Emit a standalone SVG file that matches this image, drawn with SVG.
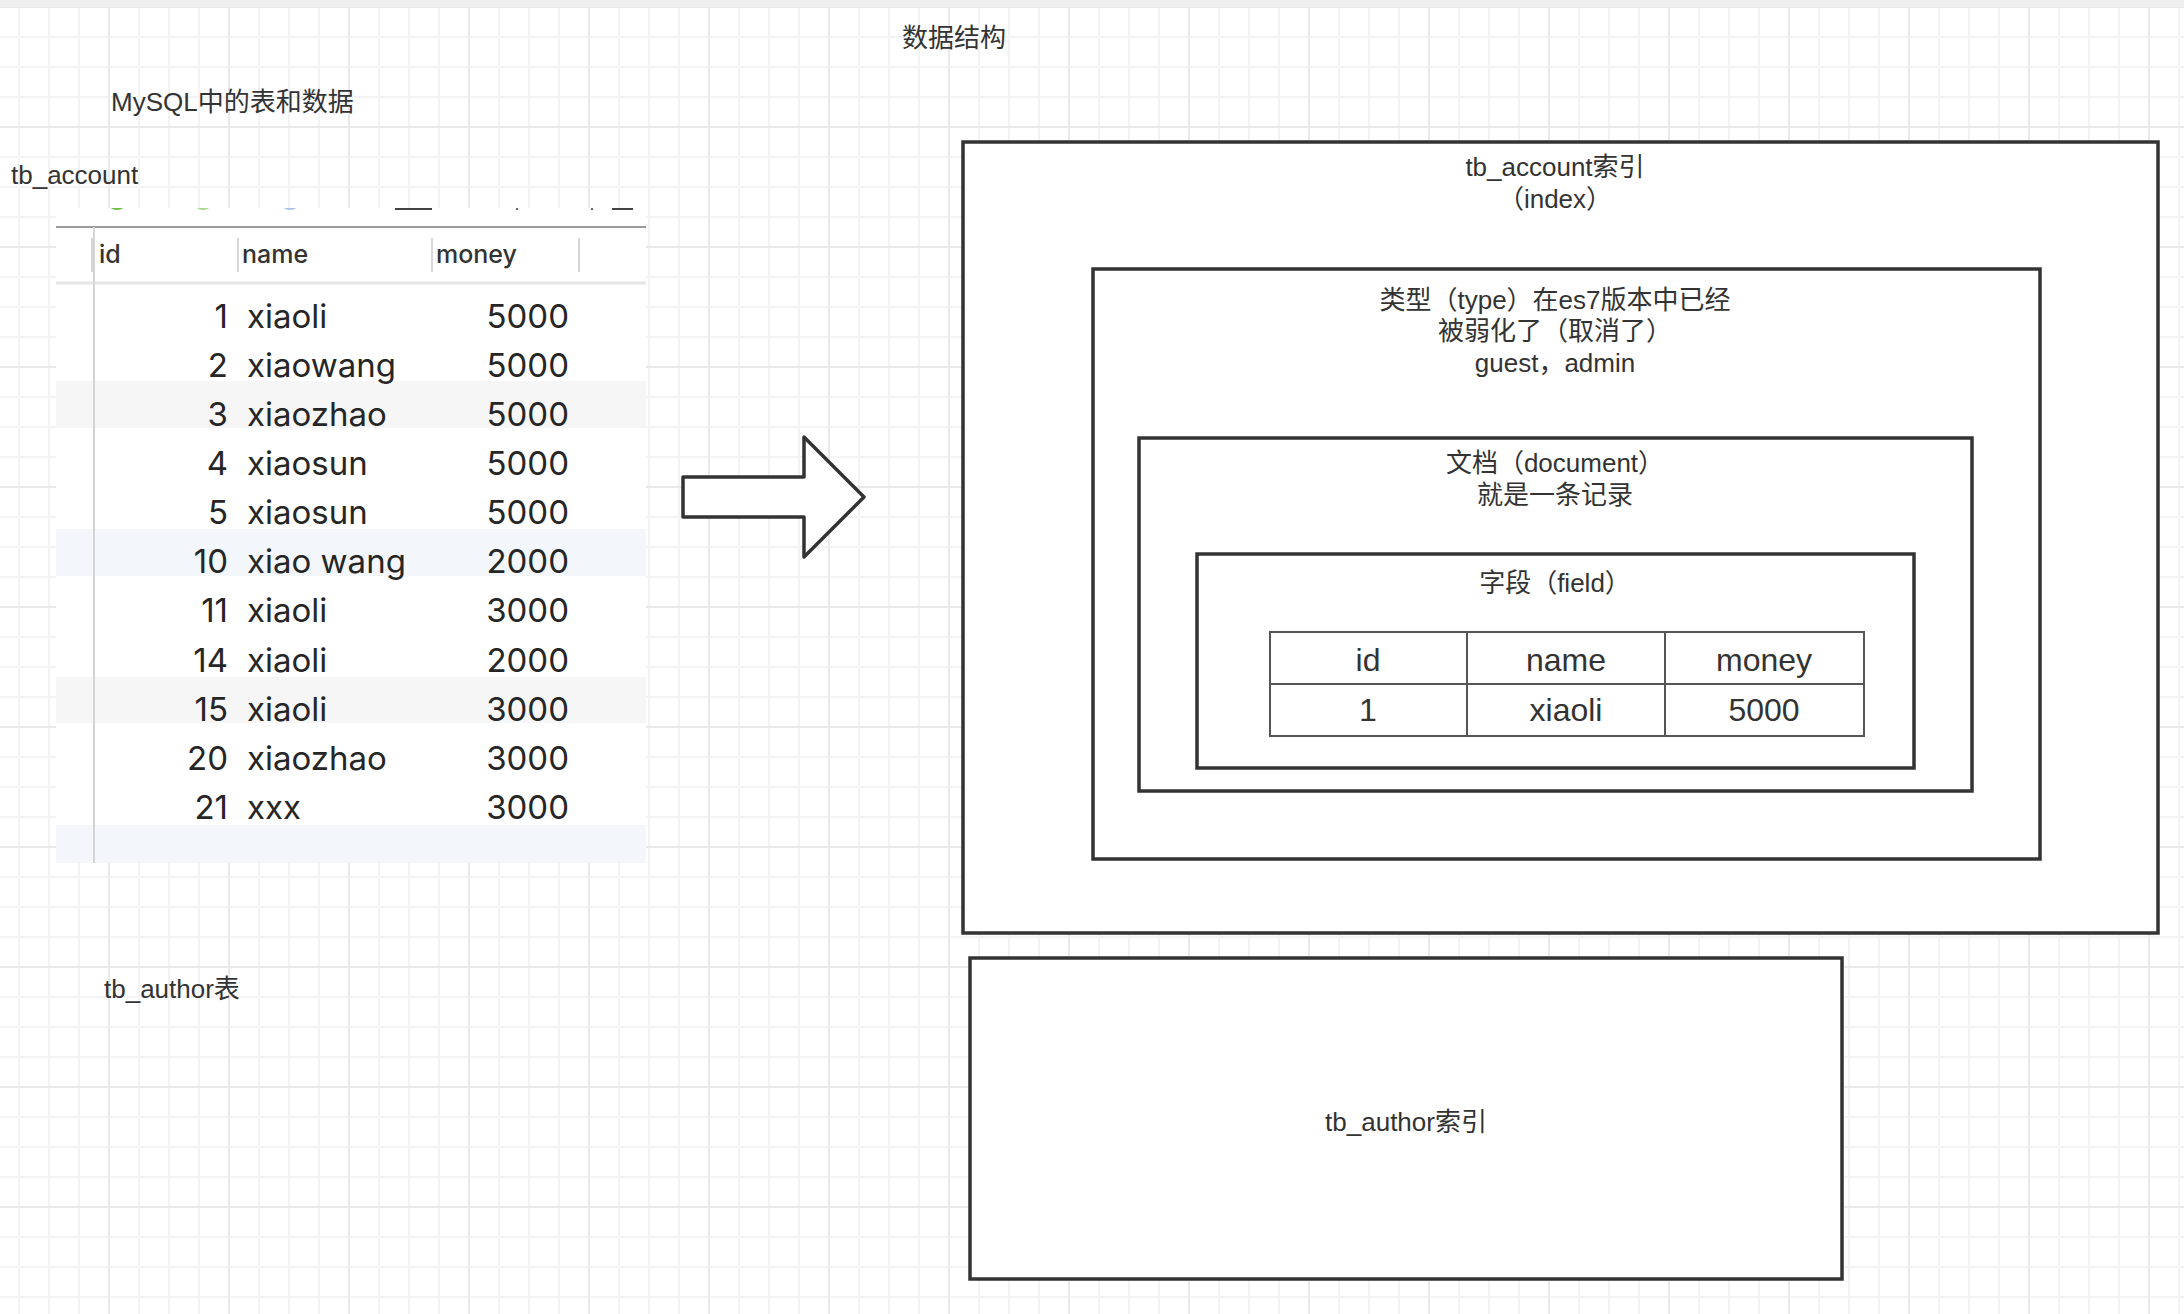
<svg xmlns="http://www.w3.org/2000/svg" width="2184" height="1314" viewBox="0 0 2184 1314">
<defs>
<pattern id="grid" x="9" y="-3" width="120" height="120" patternUnits="userSpaceOnUse">
<rect width="120" height="120" fill="#ffffff"/>
<g stroke="#f3f3f3" stroke-width="2">
<line x1="10" y1="0" x2="10" y2="120"/>
<line x1="40" y1="0" x2="40" y2="120"/>
<line x1="70" y1="0" x2="70" y2="120"/>
<line x1="0" y1="40" x2="120" y2="40"/>
<line x1="0" y1="70" x2="120" y2="70"/>
<line x1="0" y1="100" x2="120" y2="100"/>
</g>
<g stroke="#e9e9e9" stroke-width="2">
<line x1="100" y1="0" x2="100" y2="120"/>
<line x1="0" y1="10" x2="120" y2="10"/>
</g>
</pattern>
<clipPath id="shotClip"><rect x="56" y="208" width="590" height="655"/></clipPath>
<style>
.lbl{font-family:"Liberation Sans","Noto Sans CJK SC",sans-serif;font-size:26px;fill:#333333}
.c{text-anchor:middle}
.box{fill:#ffffff;stroke:#333333;stroke-width:3.5}
.cell{fill:#ffffff;stroke:#555555;stroke-width:2}
.tv{font-family:"Liberation Sans","Noto Sans CJK SC",sans-serif;font-size:32px;fill:#333333;text-anchor:middle}
.st{font-family:Inter,"Liberation Sans",sans-serif;font-size:33px;fill:#262626}
.sh{font-family:Inter,"Liberation Sans",sans-serif;font-size:25px;font-weight:500;fill:#333333}
.r{text-anchor:end}
.sep{stroke:#d6d6d6;stroke-width:2}
</style>
</defs>
<rect x="0" y="0" width="2184" height="1314" fill="url(#grid)"/>
<rect x="0" y="0" width="2184" height="7" fill="#efefef"/>

<text class="lbl c" x="954" y="47">数据结构</text>
<text class="lbl" x="111" y="111">MySQL中的表和数据</text>
<text class="lbl" x="11" y="184">tb_account</text>
<text class="lbl" x="104" y="998">tb_author表</text>

<g id="mysql-table">
<rect x="56" y="208" width="590" height="655" fill="#ffffff"/>
<g clip-path="url(#shotClip)">
<circle cx="117" cy="199" r="11" fill="#6cbf45"/>
<circle cx="203" cy="199" r="11" fill="#a9d98c"/>
<circle cx="290" cy="199" r="11" fill="#a8c3e6"/>
<rect x="395" y="206" width="37" height="4" fill="#444444"/>
<rect x="612" y="206" width="21" height="4" fill="#444444"/>
<rect x="516" y="206" width="2" height="4" fill="#666666"/>
<rect x="591" y="206" width="2" height="4" fill="#666666"/>
<rect x="56" y="381" width="590" height="47" fill="#f6f6f6"/>
<rect x="56" y="529" width="590" height="47" fill="#f3f6fb"/>
<rect x="56" y="677" width="590" height="46" fill="#f6f6f6"/>
<rect x="56" y="825" width="590" height="40" fill="#f3f6fb"/>
</g>
<line x1="56" y1="227" x2="646" y2="227" stroke="#9a9a9a" stroke-width="2"/>
<line x1="56" y1="283" x2="646" y2="283" stroke="#e6e6e6" stroke-width="3"/>
<line x1="94" y1="227" x2="94" y2="863" stroke="#d4d4d4" stroke-width="2"/>
<line class="sep" x1="92" y1="238" x2="92" y2="272"/>
<line class="sep" x1="238" y1="238" x2="238" y2="272"/>
<line class="sep" x1="432" y1="238" x2="432" y2="272"/>
<line class="sep" x1="579" y1="238" x2="579" y2="272"/>
<text class="sh" x="99" y="263">id</text>
<text class="sh" x="242" y="263">name</text>
<text class="sh" x="436" y="263">money</text>
<g class="st">
<text class="r" x="228" y="328">1</text><text x="247" y="328">xiaoli</text><text class="r" x="569" y="328">5000</text>
<text class="r" x="228" y="377">2</text><text x="247" y="377">xiaowang</text><text class="r" x="569" y="377">5000</text>
<text class="r" x="228" y="426">3</text><text x="247" y="426">xiaozhao</text><text class="r" x="569" y="426">5000</text>
<text class="r" x="228" y="475">4</text><text x="247" y="475">xiaosun</text><text class="r" x="569" y="475">5000</text>
<text class="r" x="228" y="524">5</text><text x="247" y="524">xiaosun</text><text class="r" x="569" y="524">5000</text>
<text class="r" x="228" y="573">10</text><text x="247" y="573">xiao wang</text><text class="r" x="569" y="573">2000</text>
<text class="r" x="228" y="622">11</text><text x="247" y="622">xiaoli</text><text class="r" x="569" y="622">3000</text>
<text class="r" x="228" y="672">14</text><text x="247" y="672">xiaoli</text><text class="r" x="569" y="672">2000</text>
<text class="r" x="228" y="721">15</text><text x="247" y="721">xiaoli</text><text class="r" x="569" y="721">3000</text>
<text class="r" x="228" y="770">20</text><text x="247" y="770">xiaozhao</text><text class="r" x="569" y="770">3000</text>
<text class="r" x="228" y="819">21</text><text x="247" y="819">xxx</text><text class="r" x="569" y="819">3000</text>
</g>
</g>

<g id="arrow">
<polygon points="683,477 804,477 804,437 864,497 804,557 804,517 683,517" fill="#ffffff" stroke="#333333" stroke-width="3.5" stroke-linejoin="round"/>
</g>

<g id="index-tb_account">
<rect class="box" x="963" y="142" width="1195" height="791"/>
<text class="lbl c" x="1555" y="176">tb_account索引</text>
<text class="lbl c" x="1555" y="208">（index）</text>
</g>
<g id="type">
<rect class="box" x="1093" y="269" width="947" height="590"/>
<text class="lbl c" x="1555" y="309">类型（type）在es7版本中已经</text>
<text class="lbl c" x="1555" y="340">被弱化了（取消了）</text>
<text class="lbl c" x="1555" y="372">guest，admin</text>
</g>
<g id="document">
<rect class="box" x="1139" y="438" width="833" height="353"/>
<text class="lbl c" x="1555" y="472">文档（document）</text>
<text class="lbl c" x="1555" y="504">就是一条记录</text>
</g>
<g id="field">
<rect class="box" x="1197" y="554" width="717" height="214"/>
<text class="lbl c" x="1555" y="592">字段（field）</text>
</g>
<g id="field-table">
<rect class="cell" x="1270" y="632" width="197" height="52"/>
<rect class="cell" x="1467" y="632" width="198" height="52"/>
<rect class="cell" x="1665" y="632" width="199" height="52"/>
<rect class="cell" x="1270" y="684" width="197" height="52"/>
<rect class="cell" x="1467" y="684" width="198" height="52"/>
<rect class="cell" x="1665" y="684" width="199" height="52"/>
<text class="tv" x="1368" y="671">id</text>
<text class="tv" x="1566" y="671">name</text>
<text class="tv" x="1764" y="671">money</text>
<text class="tv" x="1368" y="721">1</text>
<text class="tv" x="1566" y="721">xiaoli</text>
<text class="tv" x="1764" y="721">5000</text>
</g>
<g id="index-tb_author">
<rect class="box" x="970" y="958" width="872" height="321"/>
<text class="lbl c" x="1406" y="1131">tb_author索引</text>
</g>
<g id="connectors"></g>
</svg>
